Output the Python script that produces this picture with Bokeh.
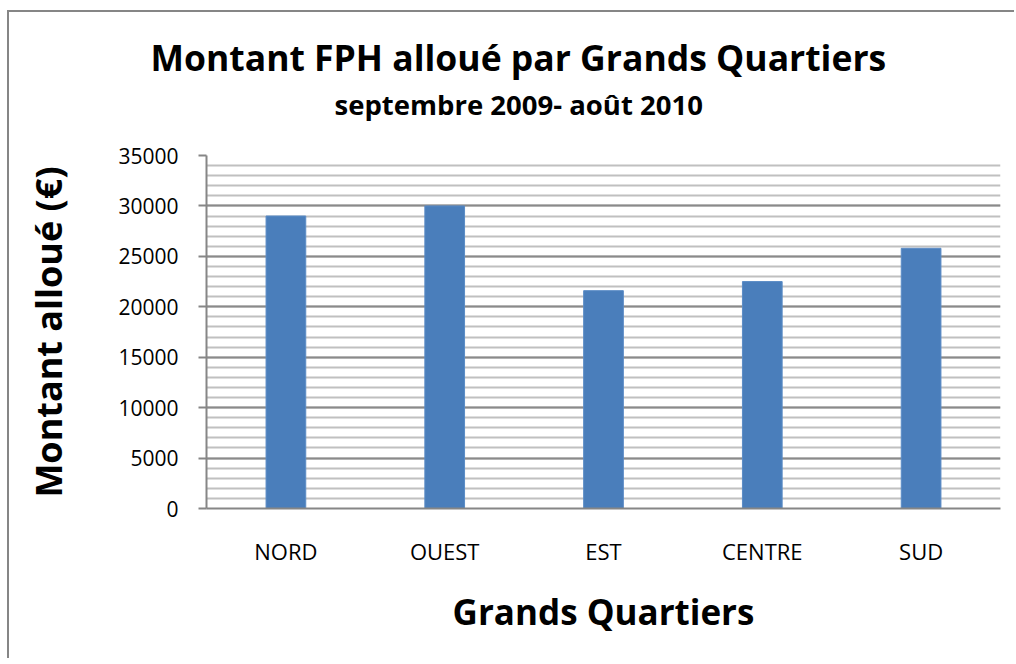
from bokeh.plotting import figure
from bokeh.models import FactorRange, Range1d, FixedTicker, Title
from bokeh.embed import file_html
from bokeh.resources import INLINE

# ---- data ----
categories = ["NORD", "OUEST", "EST", "CENTRE", "SUD"]
values = [29000, 30000, 21600, 22500, 25800]
y_major_ticks = [0, 5000, 10000, 15000, 20000, 25000, 30000, 35000]
y_minor_ticks = list(range(0, 35001, 1000))

title_text = "Montant FPH alloué par Grands Quartiers"
subtitle_text = "septembre 2009- août 2010"
x_label = "Grands Quartiers"
y_label = "Montant alloué (€)"

FONT = "Open Sans"
AXIS_GRAY = "#868686"

p = figure(
    x_range=FactorRange(*categories),
    y_range=Range1d(0, 35000),
    width=1007, height=648,
    output_backend="svg", toolbar_location=None,
    min_border_left=197, min_border_right=16,
    min_border_top=143, min_border_bottom=152,
)
p.styles = {
    "margin-left": "7px",
    "margin-top": "10px",
    "border-left": "2px solid #868686",
    "border-top": "2px solid #868686",
}
p.outline_line_color = None
p.background_fill_color = "white"
p.border_fill_color = "white"

p.vbar(x=categories, top=values, width=0.25, fill_color="#4a7ebb", line_color="#5b8cc6", line_width=1)

# grid
p.xgrid.grid_line_color = None
p.yaxis.ticker = FixedTicker(ticks=y_major_ticks, minor_ticks=y_minor_ticks)
p.ygrid.grid_line_color = "#8a8a8a"
p.ygrid.grid_line_width = 2
p.ygrid.minor_grid_line_color = "#c0c0c0"
p.ygrid.minor_grid_line_width = 2

# y axis
p.yaxis.axis_line_color = AXIS_GRAY
p.yaxis.axis_line_width = 2
p.yaxis.major_tick_line_color = AXIS_GRAY
p.yaxis.major_tick_line_width = 2
p.yaxis.major_tick_out = 8
p.yaxis.major_tick_in = 0
p.yaxis.minor_tick_line_color = None
p.yaxis.major_label_text_font = FONT
p.yaxis.major_label_text_font_size = "21px"
p.yaxis.major_label_text_color = "black"
p.yaxis.major_label_standoff = 20
p.yaxis.axis_label = y_label
p.yaxis.axis_label_text_font = FONT
p.yaxis.axis_label_text_font_size = "36px"
p.yaxis.axis_label_text_font_style = "bold"
p.yaxis.axis_label_text_color = "black"
p.yaxis.axis_label_standoff = 42

# x axis
p.xaxis.axis_line_color = AXIS_GRAY
p.xaxis.axis_line_width = 2
p.xaxis.major_tick_line_color = None
p.xaxis.minor_tick_line_color = None
p.xaxis.major_label_text_font = FONT
p.xaxis.major_label_text_font_size = "22px"
p.xaxis.major_label_text_color = "black"
p.xaxis.major_label_standoff = 21
p.xaxis.axis_label = x_label
p.xaxis.axis_label_text_font = FONT
p.xaxis.axis_label_text_font_size = "35px"
p.xaxis.axis_label_text_font_style = "bold"
p.xaxis.axis_label_text_color = "black"
p.xaxis.axis_label_standoff = 19

# titles: main title outermost, subtitle next to the frame
p.title.text = title_text
p.title.text_font = FONT
p.title.text_font_size = "35.5px"
p.title.text_font_style = "bold"
p.title.text_color = "black"
p.title.align = "left"
p.title.offset = -56
p.title.standoff = -60

p.add_layout(Title(text=subtitle_text, text_font=FONT, text_font_size="27.5px",
                   text_font_style="bold", text_color="black",
                   align="left", offset=128, standoff=66), "above")

open("out.html", "w").write(file_html(p, INLINE))
